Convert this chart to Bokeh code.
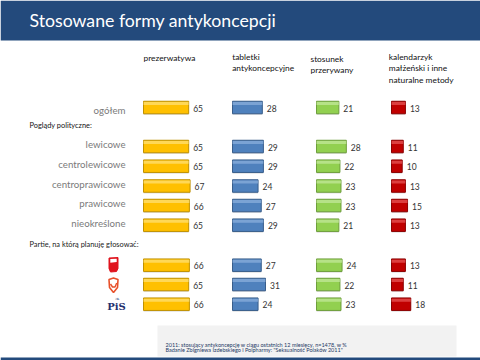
from bokeh.plotting import figure
from bokeh.models import Range1d, ColumnDataSource
from bokeh.core.properties import value
from bokeh.embed import file_html
from bokeh.resources import INLINE

# ---------------- data ----------------
TITLE = "Stosowane formy antykoncepcji"
SERIES = [
    ["prezerwatywa"],
    ["tabletki", "antykoncepcyjne"],
    ["stosunek", "przerywany"],
    ["kalendarzyk", "małżeński i inne", "naturalne  metody"],
]
ROW_LABELS = ["ogółem", "lewicowe", "centrolewicowe", "centroprawicowe",
              "prawicowe", "nieokreślone", "", "", ""]
PARTIES = ["PO", "SLD", "PiS"]
SECTION_1 = "Poglądy  polityczne:"
SECTION_2 = "Partie,  na którą  planuję  głosować:"
prezerwatywa = [65, 65, 65, 67, 66, 65, 66, 65, 66]
tabletki = [28, 29, 29, 24, 27, 29, 27, 31, 24]
stosunek = [21, 28, 22, 23, 23, 21, 24, 22, 23]
kalendarzyk = [13, 11, 10, 13, 15, 13, 13, 11, 18]
NOTE = ["2011: stosujący antykoncepcję w ciągu ostatnich 12 miesięcy, n=1478, w %",
        "Badanie Zbigniewa Izdebskiego i Polpharmy: \"Seksualność Polaków 2011\""]

# ---------------- layout (reference pixel space) ----------------
W, H = 480, 360
ROW_Y = [107, 146, 165.7, 185.5, 205, 224.7, 264.7, 284, 303.7]
BAR_H = 12.5
COLS = [  # origin px, px per unit, fill, edge, light
    (143, 0.695, "#FFC000", "#BF9000", "#FFE27A"),
    (232, 1.065, "#4F81BD", "#385D8A", "#8EB2DE"),
    (316, 1.065, "#92D050", "#6E9E3C", "#C6EA9E"),
    (391, 1.07, "#C00000", "#8A0000", "#E85A5A"),
]
HEAD_X = [143, 231.7, 310, 388.3]
HEAD_Y = [57.5, 56, 58, 56]
FONT = "Lato"

p = figure(width=W, height=H, output_backend="svg", toolbar_location=None,
           x_range=Range1d(0, W), y_range=Range1d(H, 0),
           min_border=0)
p.axis.visible = False
p.grid.visible = False
p.outline_line_color = None
p.background_fill_color = "white"

# banner, footer box, bottom band
p.quad(left=[0], right=[480], top=[0], bottom=[40], fill_color="#234A7C", line_color=None)
p.quad(left=[157], right=[456], top=[325], bottom=[356], fill_color="#F2F2F2", line_color=None)
p.quad(left=[0], right=[480], top=[357], bottom=[360], fill_color="#234A7C", line_color=None)
p.text(x=[29], y=[20], text=[TITLE], text_color="white", text_font=value(FONT),
       text_font_size="17.7px", text_baseline="middle")

# column headers
for (hx, hy, lines) in zip(HEAD_X, HEAD_Y, SERIES):
    src = ColumnDataSource(dict(x=[hx] * len(lines),
                                y=[hy + i * 11.7 for i in range(len(lines))],
                                t=lines))
    p.text(x="x", y="y", text="t", source=src, text_font=value(FONT),
           text_font_size="8.4px", text_baseline="middle", text_color="#111111")

# section labels
p.text(x=[29], y=[124.5], text=[SECTION_1], text_font=value(FONT), text_font_size="7.4px",
       text_baseline="middle", text_color="#111111")
p.text(x=[29], y=[244], text=[SECTION_2], text_font=value(FONT), text_font_size="7.4px",
       text_baseline="middle", text_color="#222222")

# row labels
lab_y = [ROW_Y[0] + 2] + [y - 2.5 for y in ROW_Y[1:]]
p.text(x=[125] * len(ROW_LABELS), y=lab_y, text=ROW_LABELS, text_font=value(FONT),
       text_font_size="9.7px", text_align="right", text_baseline="middle",
       text_color="#7A7A7A")

# bars
for i, ((ox, k, fill, edge, light), vals) in enumerate(zip(COLS, [prezerwatywa, tabletki, stosunek, kalendarzyk])):
    name = f"c{i}"
    start = -ox / k
    p.extra_x_ranges[name] = Range1d(start, start + W / k)
    src = ColumnDataSource(dict(y=ROW_Y, v=vals, ys=[y + 1.2 for y in ROW_Y],
                                yh=[y - BAR_H / 2 + 2.2 for y in ROW_Y],
                                lab=[str(v) for v in vals]))
    p.hbar(y="ys", left=0, right="v", height=BAR_H, source=src, x_range_name=name,
           fill_color="#000000", fill_alpha=0.12, line_color=None)
    p.hbar(y="y", left=0, right="v", height=BAR_H, source=src, x_range_name=name,
           fill_color=fill, line_color=edge, line_width=1)
    p.hbar(y="yh", left=0, right="v", height=3, source=src, x_range_name=name,
           fill_color=light, fill_alpha=0.7, line_color=None)
    p.text(x="v", y="y", text="lab", source=src, x_range_name=name, x_offset=4.5,
           y_offset=0.5, text_font=value(FONT), text_font_size="8.5px",
           text_baseline="middle", text_color="#333333")

# party logos (decorative)
# PO
p.patch(x=[108.5, 117.5, 117.5, 116, 110, 108.5], y=[257.5, 257, 268, 271, 271.5, 268],
        fill_color="#E0141E", line_color="#E0141E")
p.patch(x=[109.8, 116.2, 116.2, 109.8], y=[258.6, 258.3, 261.5, 262.3], fill_color="white",
        line_color=None)
# SLD-like outline
p.patch(x=[108.5, 113, 117.5, 117, 113, 109], y=[279, 277.5, 279, 287, 292, 287],
        fill_color=None, line_color="#E8502A", line_width=1.6)
p.line(x=[110, 112, 114.5, 116.2], y=[283.5, 286.5, 286.5, 282.5], line_color="#E8502A", line_width=1.4)
# PiS
p.text(x=[116], y=[305.5], text=["PiS"], text_font=value("DejaVu Serif"), text_font_size="10px",
       text_font_style="bold", text_align="center", text_baseline="middle", text_color="#1F2F6E")
p.text(x=[117], y=[298], text=["\u2767"], text_font=value("DejaVu Sans"), text_font_size="6px",
       text_align="center", text_baseline="middle", text_color="#8090B0")

# note
p.text(x=[165, 165], y=[344.3, 349.6], text=NOTE, text_font=value(FONT), text_font_size="5.5px",
       text_baseline="middle", text_color="#1F3A66")

open("out.html", "w").write(file_html(p, INLINE))
